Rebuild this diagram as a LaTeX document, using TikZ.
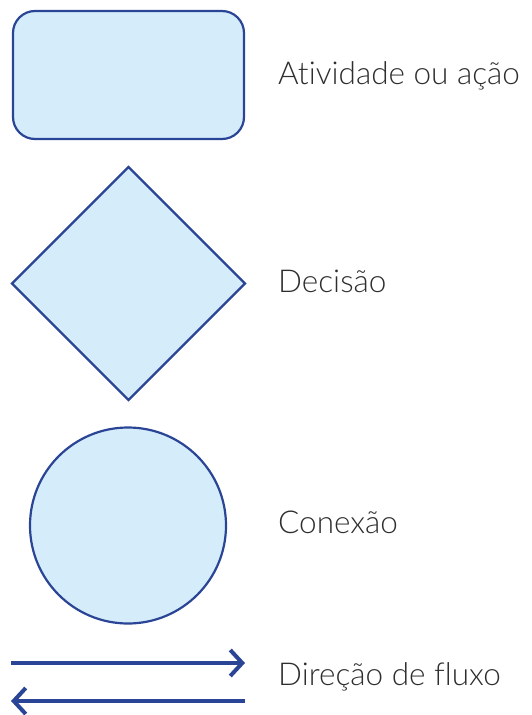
\documentclass[tikz,border=0pt]{standalone}
\usepackage{fontspec}
\setmainfont{Lato Light}[RawFeature=-liga]
\usetikzlibrary{arrows.meta,shapes.geometric}

\definecolor{flowblue}{HTML}{2B4596}
\definecolor{flowfill}{HTML}{D5EDFA}
\definecolor{textgray}{HTML}{2E2E2E}

\tikzset{
  symbol/.style = {draw=flowblue, fill=flowfill, line width=2.2pt, inner sep=0pt, outer sep=0pt},
  legtext/.style = {anchor=base west, inner sep=0pt, text=textgray, font=\fontsize{31.5}{36}\selectfont},
  flow/.style = {draw=flowblue, line width=4pt, -{Straight Barb[length=12pt, width=26pt, line width=4pt]}}
}

\begin{document}
\begin{tikzpicture}[x=1pt, y=-1pt]

\useasboundingbox (0,0) rectangle (531,715);

% the three symbols
\node[symbol, rectangle, rounded corners=22pt, minimum width=231pt, minimum height=128pt] (atividade) at (128.5,75) {};
\node[symbol, diamond, aspect=1, minimum width=233pt, minimum height=233pt] (decisao) at (128.5,283.5) {};
\node[symbol, circle, minimum size=196pt] (conexao) at (128,525.5) {};

% flow arrows
\coordinate (fa) at (11,663);
\coordinate (fb) at (245,663);
\coordinate (fc) at (245,701);
\coordinate (fd) at (11,701);
\draw[flow] (fa) -- (fb);
\draw[flow] (fc) -- (fd);

% legend texts
\node[legtext] (tatividade) at (278,84) {Atividade ou ação};
\node[legtext] (tdecisao) at (278,292) {Decisão};
\node[legtext] (tconexao) at (278,533) {Conexão};
\node[legtext] (tfluxo) at (278,685) {Direção de fluxo};

\end{tikzpicture}
\end{document}
